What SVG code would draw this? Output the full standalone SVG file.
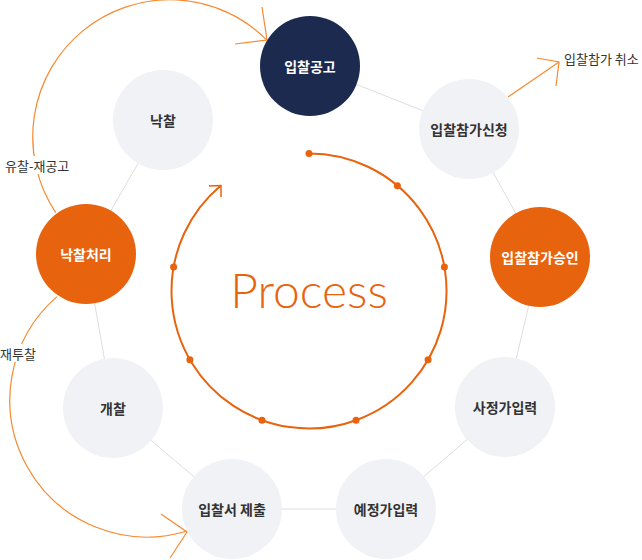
<svg xmlns="http://www.w3.org/2000/svg" width="642" height="560" viewBox="0 0 642 560">
<defs>
<style>
.node-light{fill:#f1f2f6}
.node-navy{fill:#1b2a4e}
.node-orange{fill:#e8630e}
.lbl{font-family:"Noto Sans CJK KR","Noto Sans",sans-serif;font-size:14px;font-weight:700;text-anchor:middle;dominant-baseline:central}
.dark{fill:#333}
.white{fill:#fff}
.conn{stroke:#dedede;stroke-width:1;fill:none}
.flow{stroke:#f7892f;stroke-width:1.2;fill:none}
.note{font-family:"Noto Sans CJK KR","Noto Sans",sans-serif;font-size:13px;fill:#333;dominant-baseline:central}
.ring{stroke:#e8630e;stroke-width:2;fill:none}
.dot{fill:#e8630e}
</style>
</defs>
<rect width="642" height="560" fill="#fff"/>
<g id="connectors">
<line class="conn" x1="310" y1="66" x2="469" y2="129"/>
<line class="conn" x1="469" y1="129" x2="540" y2="257"/>
<line class="conn" x1="540" y1="257" x2="505" y2="407"/>
<line class="conn" x1="505" y1="407" x2="386" y2="509"/>
<line class="conn" x1="386" y1="509" x2="232" y2="509"/>
<line class="conn" x1="232" y1="509" x2="113" y2="408"/>
<line class="conn" x1="113" y1="408" x2="86" y2="254"/>
<line class="conn" x1="86" y1="254" x2="163" y2="120"/>
<path class="flow" d="M55.7,212.6 A137,137 0 0 1 266.9,40.1"/>
<path class="flow" d="M262,7 L267,40 L235,44"/>
<path class="flow" d="M57,296.6 A137,137 0 0 0 187,531"/>
<path class="flow" d="M161,514 L187,532 L170,558"/>
<path class="flow" d="M508,97 L559,62"/>
<path class="flow" d="M537,58 L559,62 L556,86"/>
</g>
<g id="label-yuchal">
<rect x="4" y="156" width="72" height="18" fill="#fff"/>
<text class="note" x="5" y="165">유찰-재공고</text>
</g>
<g id="label-jaetuchal">
<rect x="0" y="344" width="38" height="18" fill="#fff"/>
<text class="note" x="0" y="353">재투찰</text>
</g>
<g id="label-cancel">
<text class="note" x="564" y="58">입찰참가 취소</text>
</g>
<g id="process">
<path class="ring" d="M309,153.5 A137.5,137.5 0 1 1 220.6,185.7"/>
<path d="M209,186 L221,185.5 L221,197" stroke="#e8630e" stroke-width="1.5" fill="none"/>
<circle class="dot" cx="309" cy="153.5" r="3.5"/>
<circle class="dot" cx="397.4" cy="185.7" r="3.5"/>
<circle class="dot" cx="444.4" cy="267.1" r="3.5"/>
<circle class="dot" cx="428.1" cy="359.75" r="3.5"/>
<circle class="dot" cx="356" cy="420.2" r="3.5"/>
<circle class="dot" cx="262" cy="420.2" r="3.5"/>
<circle class="dot" cx="189.9" cy="359.75" r="3.5"/>
<circle class="dot" cx="173.6" cy="267.1" r="3.5"/>
<text x="309" y="308" font-family="Lato,'Open Sans',sans-serif" font-weight="300" font-size="48" fill="#e8630e" text-anchor="middle">Process</text>
</g>
<g id="n-ipchalgonggo"><circle class="node-navy" cx="310" cy="66" r="50"/><text class="lbl white" x="310" y="66">입찰공고</text></g>
<g id="n-sincheong"><circle class="node-light" cx="469" cy="129" r="50"/><text class="lbl dark" x="469" y="129">입찰참가신청</text></g>
<g id="n-seungin"><circle class="node-orange" cx="540" cy="257" r="50"/><text class="lbl white" x="540" y="257">입찰참가승인</text></g>
<g id="n-sajeongga"><circle class="node-light" cx="505" cy="407" r="50"/><text class="lbl dark" x="505" y="407">사정가입력</text></g>
<g id="n-yejeongga"><circle class="node-light" cx="386" cy="509" r="50"/><text class="lbl dark" x="386" y="509">예정가입력</text></g>
<g id="n-jechul"><circle class="node-light" cx="232" cy="509" r="50"/><text class="lbl dark" x="232" y="509">입찰서 제출</text></g>
<g id="n-gaechal"><circle class="node-light" cx="113" cy="408" r="50"/><text class="lbl dark" x="113" y="408">개찰</text></g>
<g id="n-nakchalcheori"><circle class="node-orange" cx="86" cy="254" r="50"/><text class="lbl white" x="86" y="254">낙찰처리</text></g>
<g id="n-nakchal"><circle class="node-light" cx="163" cy="120" r="50"/><text class="lbl dark" x="163" y="120">낙찰</text></g>
</svg>
